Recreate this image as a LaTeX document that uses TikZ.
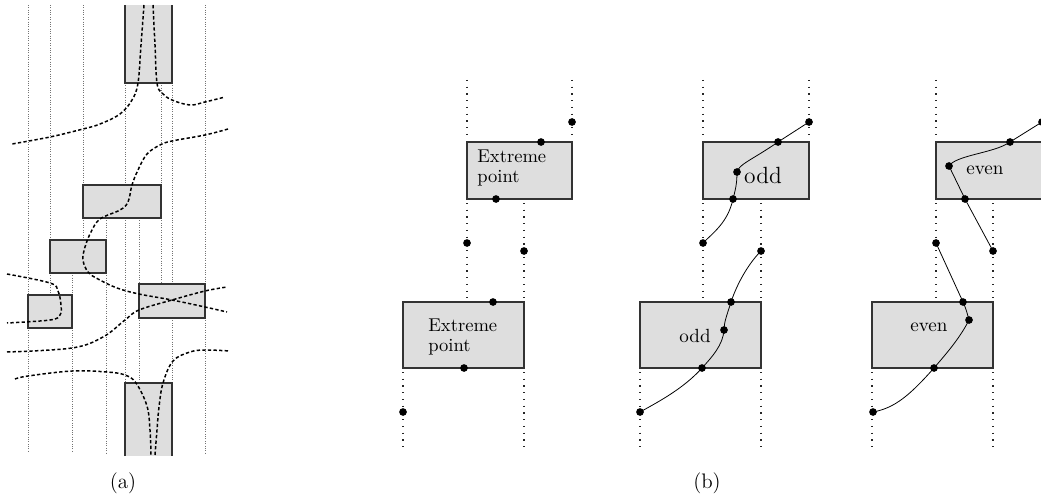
\documentclass[tikz,border=0pt]{standalone}
\begin{document}
\begin{tikzpicture}[x=0.5714pt,y=-0.5714pt,
  boxfill/.style={fill=black!13},
  boxedge/.style={draw=black!80, line width=0.6pt},
  gridl/.style={draw=black!55, line width=0.45pt, dash pattern=on 0.45pt off 0.9pt},
  curveA/.style={line width=0.85pt, dash pattern=on 1.9pt off 1.3pt},
  vdot/.style={draw=black!85, line width=0.65pt, dash pattern=on 0.65pt off 3.2pt},
  pt/.style={circle, fill=black, inner sep=0pt, minimum size=4.4pt},
  conn/.style={line width=0.45pt},
  lbl/.style={inner sep=0pt}]
\useasboundingbox (0,0) rectangle (1041,499);

% ---------------- (a) ----------------
% grid lines
\draw[gridl] (28,5)--(28,295) (28,328)--(28,453);
\draw[gridl] (50,5)--(50,240) (50,273)--(50,295);
\draw[gridl] (72,273)--(72,295) (72,328)--(72,453);
\draw[gridl] (83,5)--(83,185) (83,218)--(83,240);
\draw[gridl] (106,218)--(106,240) (106,273)--(106,453);
\draw[gridl] (125,83)--(125,185) (125,218)--(125,383);
\draw[gridl] (139,218)--(139,284) (139,318)--(139,383);
\draw[gridl] (161,83)--(161,185) (161,218)--(161,284);
\draw[gridl] (172,83)--(172,284) (172,318)--(172,383);
\draw[gridl] (205,5)--(205,284) (205,318)--(205,453);

% obstacles
\fill[boxfill] (125,5) rectangle (172,83);
\draw[boxedge] (125,5)--(125,83)--(172,83)--(172,5);
\filldraw[boxfill, boxedge] (83,185) rectangle (161,218);
\filldraw[boxfill, boxedge] (50,240) rectangle (106,273);
\filldraw[boxfill, boxedge] (28,295) rectangle (72,328);
\filldraw[boxfill, boxedge] (139,284) rectangle (205,318);
\fill[boxfill] (125,383) rectangle (172,456);
\draw[boxedge] (125,456)--(125,383)--(172,383)--(172,456);

% dashed curves
\draw[curveA] plot[smooth, tension=0.6] coordinates {(144,5) (141,45) (138,83) (132,100) (120,114) (100,124) (83,129) (50,137) (12,144)};
\draw[curveA] plot[smooth, tension=0.6] coordinates {(153,5) (155,45) (157,83) (162,93) (172,100) (190,105) (205,102) (225,97)};
\draw[curveA] plot[smooth, tension=0.6] coordinates {(228,129) (205,135) (172,141) (160,145) (147,154) (138,170) (132,185) (128,202) (120,210) (100,219) (91,232) (85,247) (83,260) (88,272) (98,279) (117,288) (139,294) (172,300) (205,307) (227,312)};
\draw[curveA] plot[smooth, tension=0.6] coordinates {(7,352) (72,348) (103,337) (125,320) (139,310) (172,300) (205,291) (227,287)};
\draw[curveA] plot[smooth, tension=0.6] coordinates {(7,274) (50,283) (58,291) (61,305) (60,315) (50,320) (7,323)};
\draw[curveA] plot[smooth, tension=0.6] coordinates {(15,379) (28,376) (72,371) (107,372) (125,375) (136,383) (147,406) (150,430) (151,455)};
\draw[curveA] plot[smooth, tension=0.6] coordinates {(155,455) (157,430) (159,407) (163,383) (173,361) (190,352) (205,350) (230,351)};

\node[lbl, font=\fontsize{12}{14}\selectfont] (capa) at (123,483) {(a)};

% ---------------- (b) ----------------
% dotted guide lines
\draw[vdot] (467,80)--(467,139) (467,203)--(467,299) (572,80)--(572,139) (524,203)--(524,299) (403,372)--(403,452) (524,372)--(524,452);
\draw[vdot] (703,80)--(703,139) (703,203)--(703,299) (809,80)--(809,139) (761,203)--(761,299) (640,372)--(640,452) (761,372)--(761,452);
\draw[vdot] (936,80)--(936,139) (936,203)--(936,299) (1042,80)--(1042,139) (993,203)--(993,299) (872,372)--(872,452) (993,372)--(993,452);

% boxes
\filldraw[boxfill, boxedge] (467,142) rectangle (572,199);
\filldraw[boxfill, boxedge] (403,302) rectangle (524,368);
\filldraw[boxfill, boxedge] (703,142) rectangle (809,199);
\filldraw[boxfill, boxedge] (640,302) rectangle (761,368);
\filldraw[boxfill, boxedge] (936,142) rectangle (1042,199);
\filldraw[boxfill, boxedge] (872,302) rectangle (993,368);

% labels
\node[lbl, anchor=west, align=left, font=\fontsize{10.6}{11.8}\selectfont] (t1) at (477,168) {Extreme\\point};
\node[lbl, anchor=west, align=left, font=\fontsize{10.6}{11.8}\selectfont] (t2) at (428,337) {Extreme\\point};
\node[lbl, font=\fontsize{13.4}{16}\selectfont] (t3) at (763,175) {odd};
\node[lbl, font=\fontsize{10.9}{13}\selectfont] (t4) at (695,336) {odd};
\node[lbl, font=\fontsize{10.9}{13}\selectfont] (t5) at (985,170) {even};
\node[lbl, font=\fontsize{10.9}{13}\selectfont] (t6) at (929,327) {even};

% sub-panel 1 points
\node[pt] (a1) at (572,122) {};
\node[pt] (a2) at (541,142) {};
\node[pt] (a3) at (496,199) {};
\node[pt] (a4) at (467,243) {};
\node[pt] (a5) at (524,251) {};
\node[pt] (a6) at (493,302) {};
\node[pt] (a7) at (464,368) {};
\node[pt] (a8) at (403,412) {};

% sub-panel 2 points and path
\node[pt] (d1) at (809,122) {};
\node[pt] (d2) at (778,142) {};
\node[pt] (d3) at (737,172) {};
\node[pt] (d4) at (733,199) {};
\node[pt] (d5) at (703,243) {};
\node[pt] (e1) at (761,251) {};
\node[pt] (e2) at (731,302) {};
\node[pt] (e3) at (724,330) {};
\node[pt] (e4) at (702,368) {};
\node[pt] (e5) at (640,412) {};
\draw[conn] (d1.center) -- (d2.center) .. controls (752,160) and (739,164) .. (d3.center) .. controls (737,185) and (735,191) .. (d4.center) .. controls (728,222) and (714,232) .. (d5.center);
\draw[conn] (e1.center) .. controls (750,262) and (738,281) .. (e2.center) .. controls (727,315) and (724,322) .. (e3.center) .. controls (723,345) and (712,357) .. (e4.center) .. controls (684,388) and (660,401) .. (e5.center);

% sub-panel 3 points and path
\node[pt] (f1) at (1042,122) {};
\node[pt] (f2) at (1010,142) {};
\node[pt] (f3) at (949,166) {};
\node[pt] (f4) at (965,199) {};
\node[pt] (f5) at (993,251) {};
\node[pt] (g1) at (936,243) {};
\node[pt] (g2) at (963,302) {};
\node[pt] (g3) at (969,320) {};
\node[pt] (g4) at (934,368) {};
\node[pt] (g5) at (873,412) {};
\draw[conn] (f1.center) -- (f2.center) .. controls (995,153) and (956,155) .. (f3.center) -- (f4.center) -- (f5.center);
\draw[conn] (g1.center) -- (g2.center) .. controls (966,309) .. (g3.center) .. controls (960,338) and (946,354) .. (g4.center) .. controls (910,395) and (895,408) .. (g5.center);

\node[lbl, font=\fontsize{12}{14}\selectfont] (capb) at (707,483) {(b)};
\end{tikzpicture}
\end{document}
